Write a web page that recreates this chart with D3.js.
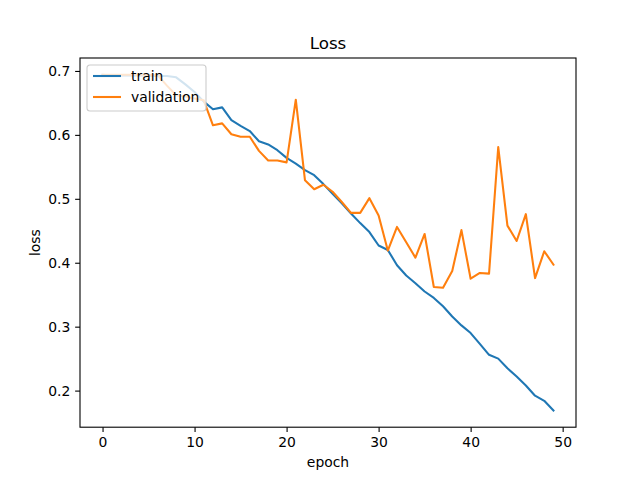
<!DOCTYPE html>
<html lang="en">
  <head>
    <meta charset="UTF-8" />
    <title>Loss</title>
    <style>
      body { margin: 0; background: #fff; }
      svg { display: block; font-family: "DejaVu Sans", sans-serif; }
    </style>
  </head>
  <body>
    <svg id="chart" width="640" height="480"></svg>

    <script src="https://cdn.jsdelivr.net/npm/d3@7"></script>
    <script>
      // values
      const trainLoss = [
        0.694, 0.693, 0.693, 0.693, 0.693, 0.693, 0.692, 0.692, 0.69, 0.679,
        0.667, 0.652, 0.64, 0.643, 0.623, 0.614, 0.606, 0.59, 0.585, 0.576,
        0.564, 0.555, 0.545, 0.537, 0.523, 0.508, 0.493, 0.477, 0.462, 0.448,
        0.427, 0.42, 0.396, 0.38, 0.368, 0.355, 0.345, 0.332, 0.316, 0.302,
        0.29, 0.273, 0.256, 0.25, 0.235, 0.222, 0.208, 0.192, 0.184, 0.169
      ];
      const valLoss = [
        0.694, 0.694, 0.694, 0.694, 0.694, 0.694, 0.693, 0.677, 0.662, 0.66,
        0.657, 0.654, 0.615, 0.618, 0.601, 0.597, 0.597, 0.575, 0.56, 0.56,
        0.557, 0.655, 0.529, 0.515, 0.522, 0.511, 0.495, 0.478, 0.478, 0.501,
        0.474, 0.419, 0.456, 0.432, 0.408, 0.445, 0.362, 0.361, 0.387, 0.451,
        0.375, 0.384, 0.383, 0.581, 0.458, 0.434, 0.476, 0.376, 0.418, 0.397
      ];
      const xTicks = [0, 10, 20, 30, 40, 50];
      const yTicks = [0.2, 0.3, 0.4, 0.5, 0.6, 0.7];
      const seriesNames = ["train", "validation"];
      const seriesColors = ["#1f77b4", "#ff7f0e"];

      const svg = d3.select("#chart");
      const plotLeft = 80, plotRight = 576, plotTop = 58, plotBottom = 427.2;

      const epochs = d3.range(trainLoss.length);
      const all = trainLoss.concat(valLoss);
      const yMin = d3.min(all), yMax = d3.max(all);
      const yPad = (yMax - yMin) * 0.05;
      const xPad = (epochs.length - 1) * 0.05;

      const x = d3.scaleLinear()
        .domain([-xPad, epochs.length - 1 + xPad])
        .range([plotLeft, plotRight]);
      const y = d3.scaleLinear()
        .domain([yMin - yPad, yMax + yPad])
        .range([plotBottom, plotTop]);

      // axes
      const xAxis = d3.axisBottom(x).tickValues(xTicks).tickSize(4.86).tickPadding(4.9)
        .tickFormat(d3.format("d"));
      const yAxis = d3.axisLeft(y).tickValues(yTicks).tickSize(4.86).tickPadding(4.9)
        .tickFormat(d3.format(".1f"));

      const gx = svg.append("g").attr("transform", `translate(0,${plotBottom})`).call(xAxis);
      const gy = svg.append("g").attr("transform", `translate(${plotLeft},0)`).call(yAxis);
      [gx, gy].forEach(g => {
        g.select(".domain").remove();
        g.selectAll(".tick line").attr("stroke", "#000").attr("stroke-width", 1.1);
        g.selectAll(".tick text").attr("fill", "#000").attr("font-size", 13.9)
          .attr("font-family", "DejaVu Sans");
      });

      // lines
      const line = d3.line().x((d, i) => x(i)).y(d => y(d));
      [trainLoss, valLoss].forEach((s, k) => {
        svg.append("path")
          .datum(s)
          .attr("fill", "none")
          .attr("stroke", seriesColors[k])
          .attr("stroke-width", 2.08)
          .attr("stroke-linejoin", "round")
          .attr("stroke-linecap", "square")
          .attr("d", line);
      });

      // frame
      svg.append("rect")
        .attr("x", plotLeft).attr("y", plotTop)
        .attr("width", plotRight - plotLeft).attr("height", plotBottom - plotTop)
        .attr("fill", "none").attr("stroke", "#000").attr("stroke-width", 1.1);

      // title and labels
      svg.append("text").attr("x", (plotLeft + plotRight) / 2).attr("y", 49)
        .attr("text-anchor", "middle").attr("font-size", 16.7).text("Loss");
      svg.append("text").attr("x", (plotLeft + plotRight) / 2).attr("y", 467)
        .attr("text-anchor", "middle").attr("font-size", 13.9).text("epoch");
      svg.append("text")
        .attr("transform", `translate(40,${(plotTop + plotBottom) / 2}) rotate(-90)`)
        .attr("text-anchor", "middle").attr("font-size", 13.9).text("loss");

      // legend
      const lg = svg.append("g").attr("transform", "translate(87,65)");
      lg.append("rect")
        .attr("width", 119).attr("height", 46).attr("rx", 3)
        .attr("fill", "#fff").attr("fill-opacity", 0.8)
        .attr("stroke", "#ccc").attr("stroke-width", 1.1);
      seriesNames.forEach((name, k) => {
        const cy = 11 + k * 21;
        lg.append("line")
          .attr("x1", 6).attr("x2", 34).attr("y1", cy).attr("y2", cy)
          .attr("stroke", seriesColors[k]).attr("stroke-width", 2.08);
        lg.append("text").attr("x", 44).attr("y", cy + 5)
          .attr("font-size", 13.9).text(name);
      });
    </script>
  </body>
</html>
